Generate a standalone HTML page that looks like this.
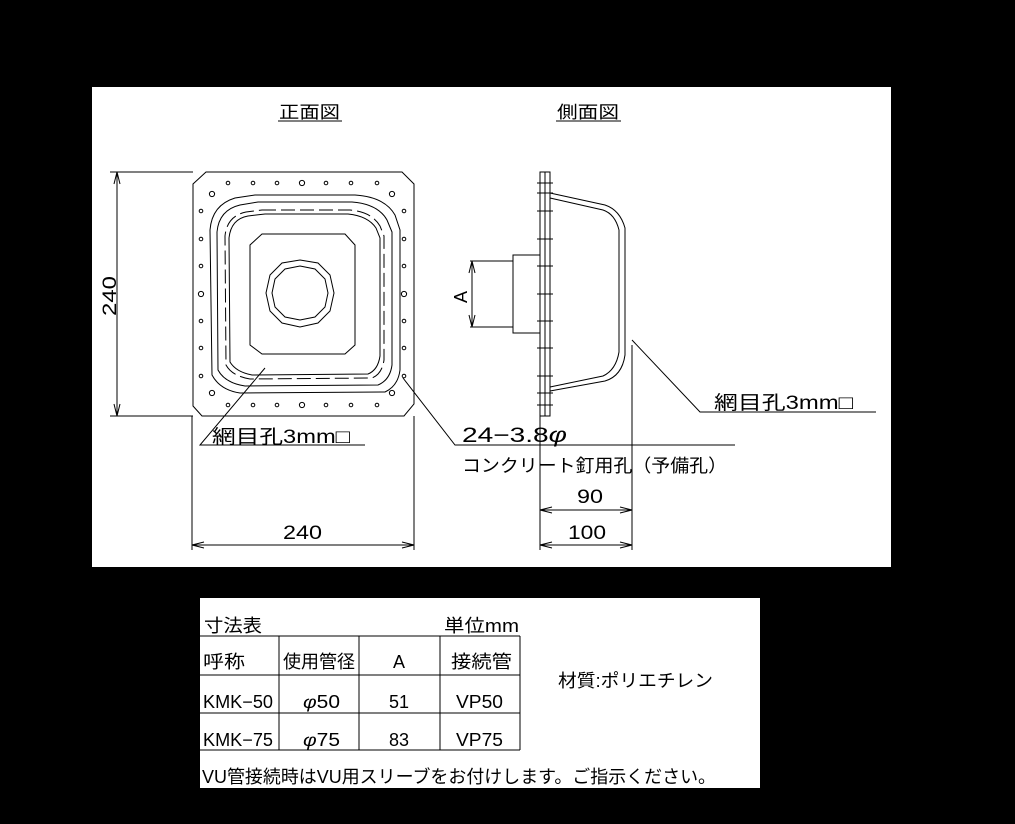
<!DOCTYPE html>
<html><head><meta charset="utf-8"><style>
body{margin:0;background:#000;width:1015px;height:824px;overflow:hidden}
svg{position:absolute;left:0;top:0}
text{font-family:"Liberation Sans","Noto Sans CJK JP",sans-serif;fill:#000}
</style></head><body>
<svg width="1015" height="824" viewBox="0 0 1015 824">
<rect x="92" y="87" width="799" height="480" fill="#fff"/>
<rect x="200" y="598" width="560" height="190" fill="#fff"/>
<g stroke="#000" fill="none" stroke-width="1">
<line x1="278" y1="121" x2="342" y2="121"/>
<line x1="556" y1="121" x2="621" y2="121"/>
<path d="M206,172 L402,172 L414,184 L414,404 L404,416 L202,416 L193,406 L193,184 Z"/>
<path d="M255,195 L355,195 Q385,197 395,215 L400,230 L400,370 Q398,386 385,392 L240,393 Q220,390 212,375 L210,230 Q212,205 235,198 Z"/>
<path d="M258,202 L352,202 Q378,204 387,220 L392,232 L392,365 Q390,380 378,385 L245,386 Q225,383 218,370 L217,232 Q219,210 240,205 Z"/>
<path d="M262,210 L350,210 Q372,212 380,226 L384,236 L384,360 Q382,374 372,378 L250,379 Q232,376 226,365 L225,236 Q227,216 246,212 Z" stroke-dasharray="14,5"/>
<path d="M265,214 L348,214 Q368,216 376,228 L380,238 L380,356 Q378,370 368,374 L252,375 Q236,372 230,362 L229,238 Q231,219 248,216 Z"/>
<path d="M262,234 L345,234 L355,245 L355,345 L345,354 L262,354 L250,345 L250,245 Z"/>
<polygon points="300,260 318,263 330,275 334,293 330,311 318,323 300,327 282,323 270,311 266,293 270,275 282,263"/>
<polygon points="300,266 315,269 325,279 328,293 325,307 315,317 300,320 285,317 275,307 272,293 275,279 285,269"/>
</g>
<g stroke="#000" fill="none" stroke-width="1">
<circle cx="228" cy="183" r="1.8"/><circle cx="253" cy="183" r="1.8"/><circle cx="277" cy="183" r="1.8"/><circle cx="302" cy="183" r="2.6"/><circle cx="326" cy="183" r="1.8"/><circle cx="351" cy="183" r="1.8"/><circle cx="377" cy="183" r="1.8"/>
<circle cx="228" cy="405" r="1.8"/><circle cx="253" cy="405" r="1.8"/><circle cx="277" cy="405" r="1.8"/><circle cx="302" cy="405" r="2.6"/><circle cx="326" cy="405" r="1.8"/><circle cx="351" cy="405" r="1.8"/><circle cx="377" cy="405" r="1.8"/>
<circle cx="212" cy="194" r="2.6"/><circle cx="392" cy="194" r="2.6"/><circle cx="212" cy="393" r="2.6"/><circle cx="392" cy="393" r="2.6"/>
<circle cx="201" cy="211" r="1.8"/><circle cx="201" cy="239" r="1.8"/><circle cx="201" cy="266" r="1.8"/><circle cx="201" cy="294" r="2.6"/><circle cx="201" cy="321" r="1.8"/><circle cx="201" cy="348" r="1.8"/><circle cx="201" cy="376" r="1.8"/>
<circle cx="404" cy="211" r="1.8"/><circle cx="404" cy="239" r="1.8"/><circle cx="404" cy="266" r="1.8"/><circle cx="404" cy="294" r="2.6"/><circle cx="404" cy="321" r="1.8"/><circle cx="404" cy="348" r="1.8"/><circle cx="404" cy="376" r="1.8"/>
</g>
<g stroke="#000" fill="none" stroke-width="1">
<line x1="110" y1="172" x2="193" y2="172"/><line x1="110" y1="416" x2="193" y2="416"/>
<line x1="117" y1="172" x2="117" y2="416"/>
<path d="M114,184 L117,172 L120,184 M114,404 L117,416 L120,404"/>
<line x1="192" y1="416" x2="192" y2="550"/><line x1="414" y1="416" x2="414" y2="550"/>
<line x1="192" y1="545" x2="414" y2="545"/>
<path d="M204,542 L192,545 L204,548 M402,542 L414,545 L402,548"/>
<polyline points="265,368 200,445 365,445"/>
<polyline points="403,378 455,445 735,445"/>
<rect x="540" y="172" width="10" height="244"/>
<line x1="545" y1="172" x2="545" y2="416"/>
<path d="M537,183h16M537,193h16M537,211h16M537,239h16M537,266h16M537,294h16M537,321h16M537,348h16M537,376h16M537,393h16M537,405h16"/>
<rect x="513" y="255" width="27" height="78"/>
<path d="M550,193 L605,205 Q620,210 625,228 L625,355 Q622,376 605,381 L550,391"/>
<path d="M550,198 L603,210 Q615,214 619,230 L619,352 Q616,370 603,376 L550,387"/>
<line x1="470" y1="261" x2="513" y2="261"/><line x1="470" y1="327" x2="513" y2="327"/>
<line x1="472" y1="261" x2="472" y2="327"/>
<path d="M469,273 L472,261 L475,273 M469,315 L472,327 L475,315"/>
<line x1="540" y1="416" x2="540" y2="550"/>
<line x1="632" y1="345" x2="632" y2="550"/>
<line x1="540" y1="510" x2="632" y2="510"/>
<line x1="540" y1="545" x2="632" y2="545"/>
<path d="M552,507 L540,510 L552,513 M620,507 L632,510 L620,513 M552,542 L540,545 L552,548 M620,542 L632,545 L620,548"/>
<polyline points="632,340 700,412 876,412"/>
</g>
<g lengthAdjust="spacingAndGlyphs">
<text x="279" y="118" font-size="17" textLength="61" lengthAdjust="spacingAndGlyphs">正面図</text>
<text x="557" y="118" font-size="17" textLength="62" lengthAdjust="spacingAndGlyphs">側面図</text>
<text x="0" y="0" font-size="19" transform="translate(116,316) rotate(-90)" textLength="40" lengthAdjust="spacingAndGlyphs">240</text>
<text x="283" y="539" font-size="19" textLength="39" lengthAdjust="spacingAndGlyphs">240</text>
<text x="0" y="0" font-size="18" transform="translate(467,303) rotate(-90)">A</text>
<text x="577" y="503" font-size="19" textLength="26" lengthAdjust="spacingAndGlyphs">90</text>
<text x="568" y="539" font-size="19" textLength="38" lengthAdjust="spacingAndGlyphs">100</text>
<text x="212" y="443" font-size="19" textLength="138" lengthAdjust="spacingAndGlyphs">網目孔3mm□</text>
<text x="462" y="442" font-size="21" textLength="105" lengthAdjust="spacingAndGlyphs">24−3.8<tspan font-style="italic">φ</tspan></text>
<text x="462" y="472" font-size="18" textLength="265" lengthAdjust="spacingAndGlyphs">コンクリート釘用孔（予備孔）</text>
<text x="714" y="409" font-size="19" textLength="139" lengthAdjust="spacingAndGlyphs">網目孔3mm□</text>
</g>
<g stroke="#000" stroke-width="1" fill="none">
<path d="M200,636H520M200,675H520M200,713H520M200,750H520M279,636V750M359,636V750M440,636V750M520,636V750"/>
</g>
<g font-size="18">
<text x="204" y="632" textLength="58" lengthAdjust="spacingAndGlyphs">寸法表</text>
<text x="444" y="632" textLength="75" lengthAdjust="spacingAndGlyphs">単位mm</text>
<text x="203" y="668" textLength="42" lengthAdjust="spacingAndGlyphs">呼称</text>
<text x="283" y="668" textLength="72" lengthAdjust="spacingAndGlyphs">使用管径</text>
<text x="393" y="668">A</text>
<text x="451" y="668" textLength="61" lengthAdjust="spacingAndGlyphs">接続管</text>
<text x="203" y="708" textLength="70" lengthAdjust="spacingAndGlyphs">KMK−50</text>
<text x="303" y="708" textLength="37" lengthAdjust="spacingAndGlyphs"><tspan font-style="italic">φ</tspan>50</text>
<text x="389" y="708">51</text>
<text x="456" y="708" textLength="47" lengthAdjust="spacingAndGlyphs">VP50</text>
<text x="203" y="746" textLength="70" lengthAdjust="spacingAndGlyphs">KMK−75</text>
<text x="303" y="746" textLength="37" lengthAdjust="spacingAndGlyphs"><tspan font-style="italic">φ</tspan>75</text>
<text x="389" y="746">83</text>
<text x="456" y="746" textLength="47" lengthAdjust="spacingAndGlyphs">VP75</text>
<text x="558" y="687" textLength="155" lengthAdjust="spacingAndGlyphs">材質:ポリエチレン</text>
<text x="202" y="783" textLength="514" lengthAdjust="spacingAndGlyphs">VU管接続時はVU用スリーブをお付けします。ご指示ください。</text>
</g>
</svg>
</body></html>
